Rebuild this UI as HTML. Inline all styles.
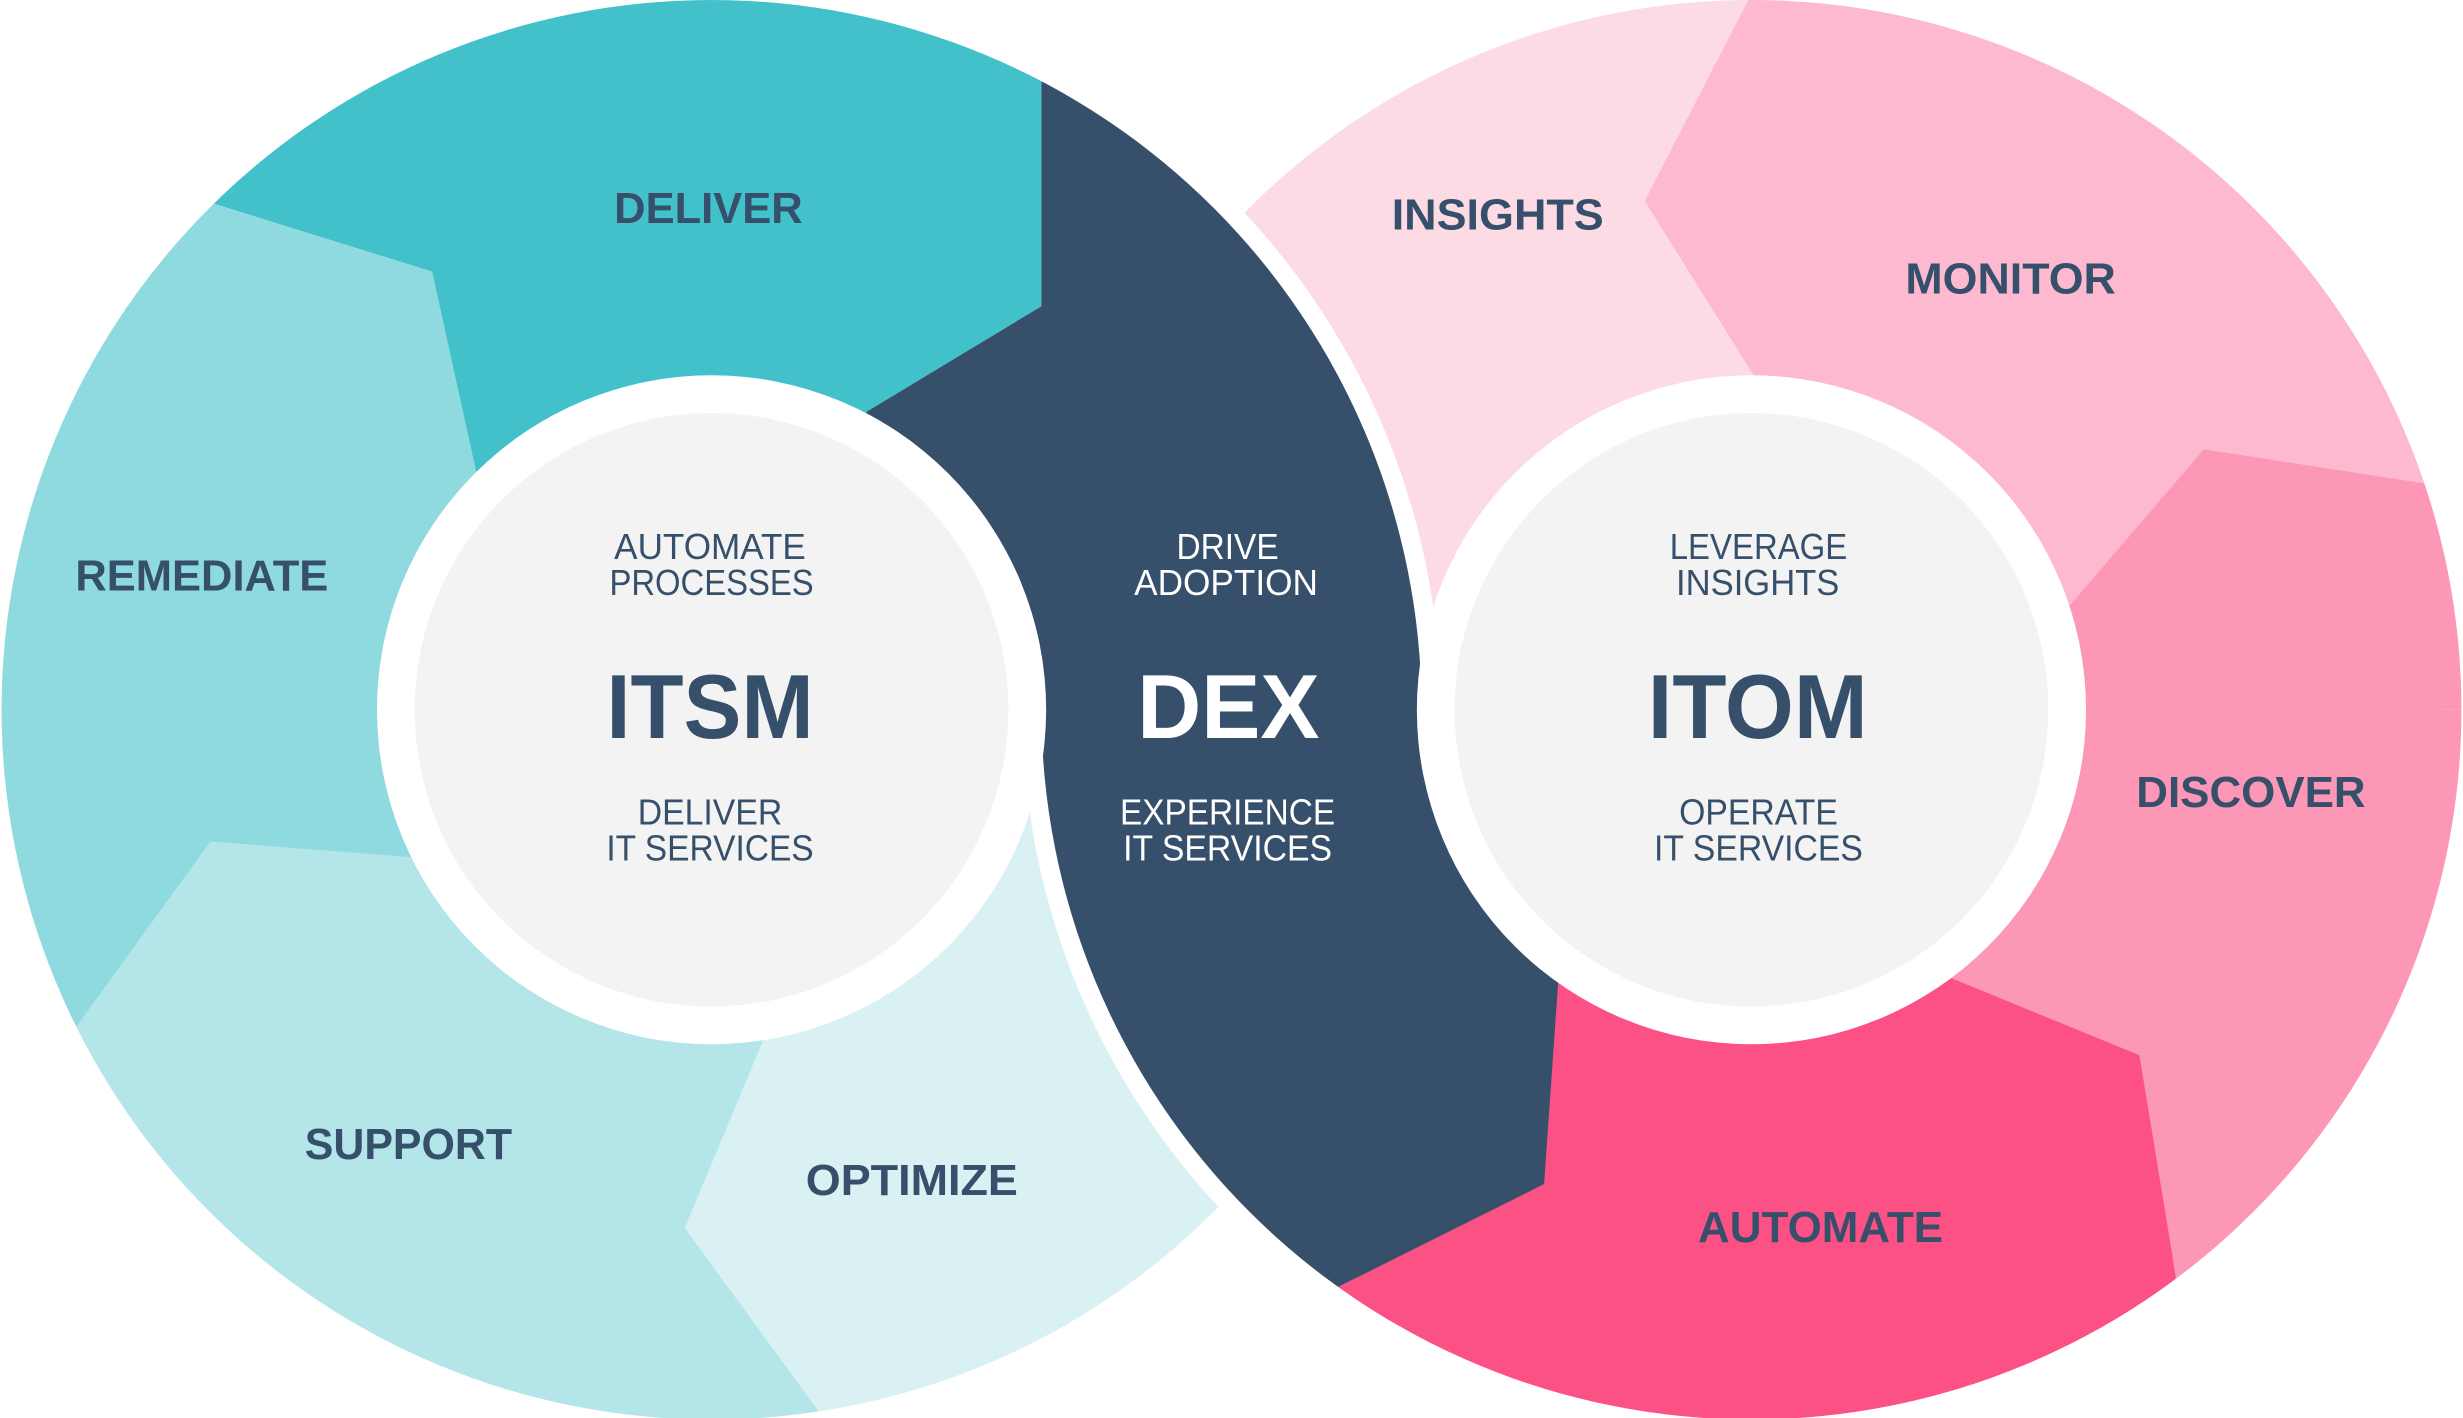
<!DOCTYPE html>
<html><head><meta charset="utf-8"><style>
html,body{margin:0;padding:0;background:#fff;width:2463px;height:1418px;overflow:hidden;}
svg{display:block;}
text{font-family:"Liberation Sans",sans-serif;}
.lb{font-weight:bold;font-size:28px;fill:#364f6b;}
.sm{font-size:23px;fill:#364f6b;}
.smw{font-size:23px;fill:#fff;}
.tt{font-weight:bold;font-size:58px;fill:#364f6b;}
</style></head><body>
<svg width="2463" height="1418" viewBox="0 0 1568 903" preserveAspectRatio="none" xmlns="http://www.w3.org/2000/svg">
<defs>
<clipPath id="cL"><circle cx="453" cy="452" r="452"/></clipPath>
<clipPath id="cR"><circle cx="1115" cy="452" r="452"/></clipPath>
<clipPath id="cRlow"><rect x="0" y="452" width="1568" height="460"/></clipPath>
</defs>
<g clip-path="url(#cR)">
<polygon fill="#fcdbe5" points="1115,452 1117,240 1047,128 1113,0 1130,-100 500,-100 500,452"/>
<polygon fill="#fcb9cf" points="1115,452 1318,385 1403,286 1545,308 1700,332 1700,-100 1130,-100 1113,0 1047,128 1117,240"/>
<polygon fill="#fc98b5" points="1115,452 1240,622 1362,672 1385,812 1400,1000 1700,1000 1700,332 1545,308 1403,286 1318,385"/>
<polygon fill="#fc5185" points="1115,452 992,625 983,754 855,818 700,900 700,1000 1400,1000 1385,812 1362,672 1240,622"/>
<polygon fill="#364f6b" points="1115,452 500,452 500,1000 700,1000 700,900 855,818 983,754 992,625"/>
</g>
<circle cx="453" cy="452" r="452" fill="none" stroke="#fff" stroke-width="24"/>
<g clip-path="url(#cL)">
<polygon fill="#42c1ca" points="453,452 303,300 275,173 137,130 -100,56 -100,-100 663,-100 663,195 552,262"/>
<polygon fill="#8fdadf" points="453,452 262,546 134,536 50,652 -100,859 -100,56 137,130 275,173 303,300"/>
<polygon fill="#b3e5e9" points="453,452 487,660 436,782 520,897 560,1000 -100,1000 -100,859 50,652 134,536 262,546"/>
<polygon fill="#d9f1f3" points="453,452 1000,452 1000,1000 560,1000 520,897 436,782 487,660"/>
<polygon fill="#364f6b" points="453,452 552,262 663,195 663,-100 1000,-100 1000,452"/>
</g>
<g clip-path="url(#cRlow)">
<circle cx="1115" cy="452" r="452" fill="none" stroke="#fff" stroke-width="24"/>
<g clip-path="url(#cR)">
<polygon fill="#fc98b5" points="1115,452 1240,622 1362,672 1385,812 1400,1000 1700,1000 1700,332 1545,308 1403,286 1318,385"/>
<polygon fill="#fc5185" points="1115,452 992,625 983,754 855,818 700,900 700,1000 1400,1000 1385,812 1362,672 1240,622"/>
<polygon fill="#364f6b" points="1115,452 500,452 500,1000 700,1000 700,900 855,818 983,754 992,625"/>
</g>
</g>
<rect x="650" y="448" width="270" height="8" fill="#364f6b"/>
<circle cx="453" cy="452" r="213" fill="#fff"/>
<circle cx="453" cy="452" r="189" fill="#f3f3f3"/>
<circle cx="1115" cy="452" r="213" fill="#fff"/>
<circle cx="1115" cy="452" r="189" fill="#f3f3f3"/>

<text class="lb" x="391" y="142" textLength="120" lengthAdjust="spacingAndGlyphs">DELIVER</text>
<text class="lb" x="48" y="376" textLength="161" lengthAdjust="spacingAndGlyphs">REMEDIATE</text>
<text class="lb" x="194" y="738" textLength="132" lengthAdjust="spacingAndGlyphs">SUPPORT</text>
<text class="lb" x="513" y="761" textLength="135" lengthAdjust="spacingAndGlyphs">OPTIMIZE</text>
<text class="lb" x="886" y="146" textLength="135" lengthAdjust="spacingAndGlyphs">INSIGHTS</text>
<text class="lb" x="1213" y="187" textLength="134" lengthAdjust="spacingAndGlyphs">MONITOR</text>
<text class="lb" x="1360" y="514" textLength="146" lengthAdjust="spacingAndGlyphs">DISCOVER</text>
<text class="lb" x="1081" y="791" textLength="156" lengthAdjust="spacingAndGlyphs">AUTOMATE</text>

<text class="sm" x="391" y="356" textLength="122" lengthAdjust="spacingAndGlyphs">AUTOMATE</text>
<text class="sm" x="388" y="379" textLength="130" lengthAdjust="spacingAndGlyphs">PROCESSES</text>
<text class="tt" x="386" y="470" textLength="132" lengthAdjust="spacingAndGlyphs">ITSM</text>
<text class="sm" x="406" y="525" textLength="92" lengthAdjust="spacingAndGlyphs">DELIVER</text>
<text class="sm" x="386" y="548" textLength="132" lengthAdjust="spacingAndGlyphs">IT SERVICES</text>

<text class="smw" x="749" y="356" textLength="65" lengthAdjust="spacingAndGlyphs">DRIVE</text>
<text class="smw" x="722" y="379" textLength="117" lengthAdjust="spacingAndGlyphs">ADOPTION</text>
<text class="tt" style="fill:#fff" x="724" y="470" textLength="116" lengthAdjust="spacingAndGlyphs">DEX</text>
<text class="smw" x="713" y="525" textLength="137" lengthAdjust="spacingAndGlyphs">EXPERIENCE</text>
<text class="smw" x="715" y="548" textLength="133" lengthAdjust="spacingAndGlyphs">IT SERVICES</text>

<text class="sm" x="1063" y="356" textLength="113" lengthAdjust="spacingAndGlyphs">LEVERAGE</text>
<text class="sm" x="1067" y="379" textLength="104" lengthAdjust="spacingAndGlyphs">INSIGHTS</text>
<text class="tt" x="1049" y="470" textLength="140" lengthAdjust="spacingAndGlyphs">ITOM</text>
<text class="sm" x="1069" y="525" textLength="101" lengthAdjust="spacingAndGlyphs">OPERATE</text>
<text class="sm" x="1053" y="548" textLength="133" lengthAdjust="spacingAndGlyphs">IT SERVICES</text>
</svg>
</body></html>
